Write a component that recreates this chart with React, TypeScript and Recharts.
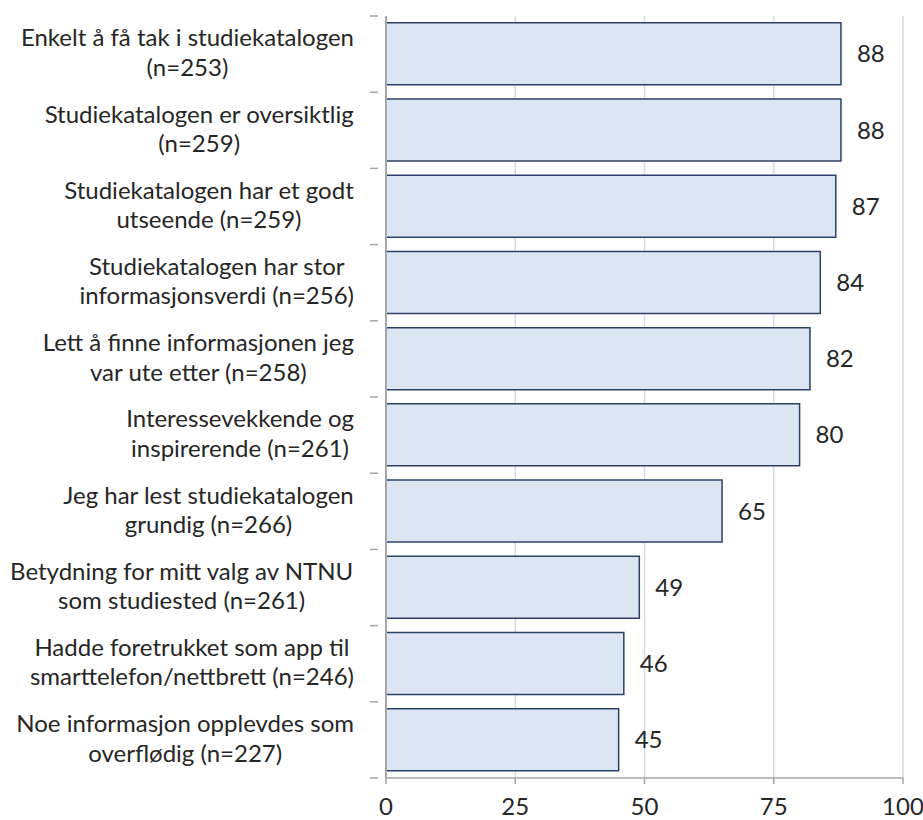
import { BarChart, Bar, XAxis, YAxis, CartesianGrid, LabelList } from "recharts"

const LABELS = [
  "Enkelt å få tak i studiekatalogen\n(n=253)",
  "Studiekatalogen er oversiktlig\n(n=259)",
  "Studiekatalogen har et godt\nutseende (n=259)",
  "Studiekatalogen har stor\ninformasjonsverdi (n=256)",
  "Lett å finne informasjonen jeg\nvar ute etter (n=258)",
  "Interessevekkende og\ninspirerende (n=261)",
  "Jeg har lest studiekatalogen\ngrundig (n=266)",
  "Betydning for mitt valg av NTNU\nsom studiested (n=261)",
  "Hadde foretrukket som app til\nsmarttelefon/nettbrett (n=246)",
  "Noe informasjon opplevdes som\noverflødig (n=227)",
]
const VALUES = [88, 88, 87, 84, 82, 80, 65, 49, 46, 45]
const X_TICKS = [0, 25, 50, 75, 100]

const data = LABELS.map((label, i) => ({ label, value: VALUES[i] }))

const FONT = "Lato, 'Open Sans', sans-serif"
const FONT_SIZE = 24
const TOP = 16
const BOTTOM_AXIS = 42
const HEIGHT = 820
const BAND = (HEIGHT - TOP - BOTTOM_AXIS) / LABELS.length

let ctx: CanvasRenderingContext2D | null = null
function measure(text: string) {
  if (!ctx) ctx = document.createElement("canvas").getContext("2d")
  if (!ctx) return text.length * 12
  ctx.font = `${FONT_SIZE}px ${FONT}`
  return ctx.measureText(text).width
}

function CategoryTick(props: any) {
  const { x, y, payload, index } = props
  const lines = String(payload.value).split("\n")
  const maxW = Math.max(...lines.map(measure))
  const cx = x - 24 - maxW / 2
  const lh = 29.5
  const startY = y - ((lines.length - 1) * lh) / 2 - 3
  return (
    <g>
      <line x1={x - 8} x2={x} y1={y - BAND / 2} y2={y - BAND / 2} stroke="#a6a6a6" strokeWidth={1.5} />
      {index === LABELS.length - 1 && (
        <line x1={x - 8} x2={x} y1={y + BAND / 2} y2={y + BAND / 2} stroke="#a6a6a6" strokeWidth={1.5} />
      )}
      <text x={cx} y={startY} textAnchor="middle" dominantBaseline="central" fill="#262626" fontSize={FONT_SIZE} fontFamily={FONT}>
        {lines.map((l, i) => (
          <tspan key={i} x={cx} dy={i === 0 ? 0 : lh}>
            {l}
          </tspan>
        ))}
      </text>
    </g>
  )
}

export default function App() {
  return (
    <div style={{ position: "absolute", left: 0, top: 0, background: "#fff" }}>
      <BarChart
        width={923}
        height={HEIGHT}
        data={data}
        layout="vertical"
        margin={{ top: TOP, right: 20, bottom: 0, left: 0 }}
        barCategoryGap="9%"
      >
        <CartesianGrid horizontal={false} stroke="#d9d9d9" strokeWidth={1.5} />
        <XAxis
          type="number"
          domain={[0, 100]}
          ticks={X_TICKS}
          height={BOTTOM_AXIS}
          axisLine={{ stroke: "#a6a6a6", strokeWidth: 1.5 }}
          tickLine={{ stroke: "#a6a6a6", strokeWidth: 1.5 }}
          tickSize={6}
          tick={{ fill: "#262626", fontSize: FONT_SIZE, fontFamily: FONT, dy: 12 }}
        />
        <YAxis
          type="category"
          dataKey="label"
          width={386}
          interval={0}
          axisLine={{ stroke: "#a6a6a6", strokeWidth: 2 }}
          tickLine={false}
          tick={<CategoryTick />}
        />
        <Bar dataKey="value" fill="#dce6f2" stroke="#2a4268" strokeWidth={1.5} isAnimationActive={false}>
          <LabelList dataKey="value" position="right" offset={16} fill="#262626" fontSize={FONT_SIZE} fontFamily={FONT} />
        </Bar>
      </BarChart>
    </div>
  )
}
